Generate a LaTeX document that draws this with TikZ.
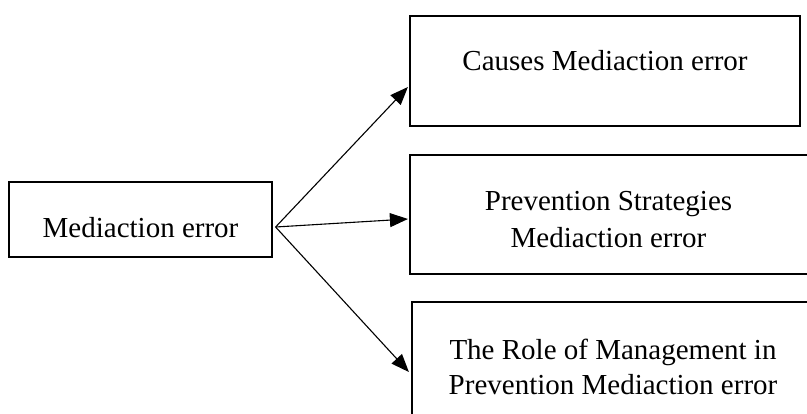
\documentclass[tikz,border=0pt]{standalone}
\usepackage{fontspec}
\setmainfont{Liberation Serif}
\usetikzlibrary{arrows.meta}
\begin{document}
\begin{tikzpicture}[x=1pt,y=-1pt,
  box/.style={draw=black,line width=1.2pt,rectangle,inner sep=0pt},
  txt/.style={inner sep=0pt,anchor=base,font=\fontsize{29}{36}\selectfont},
  conn/.style={line width=1.1pt,-{Triangle[length=18pt,width=14pt]}}]
\useasboundingbox (0,0) rectangle (807,413);
% boxes
\node[box,minimum width=263pt,minimum height=75pt] (l) at (140.5,219.5) {};
\node[box,minimum width=390pt,minimum height=110pt] (c1) at (605,71) {};
\node[box,minimum width=480pt,minimum height=119pt] (c2) at (650,214.5) {};
\node[box,minimum width=480pt,minimum height=160pt] (c3) at (652,382) {};
% texts
\node[txt] (lt) at (140.5,237) {Mediaction error};
\node[txt] (t1) at (605,70) {Causes Mediaction error};
\node[txt] (t2a) at (608.5,210.5) {Prevention Strategies};
\node[txt] (t2b) at (608.5,247.3) {Mediaction error};
\node[txt] (t3a) at (613,359) {The Role of Management in};
\node[txt] (t3b) at (613,394) {Prevention Mediaction error};
% connectors
\coordinate (s) at ([shift={(3,7.5)}]l.east);
\draw[conn] (s) -- ([shift={(-1.5,16)}]c1.west);
\draw[conn] (s) -- ([shift={(-1.5,4.5)}]c2.west);
\draw[conn] (s) -- ([shift={(-2.5,-10)}]c3.west);
\end{tikzpicture}
\end{document}
